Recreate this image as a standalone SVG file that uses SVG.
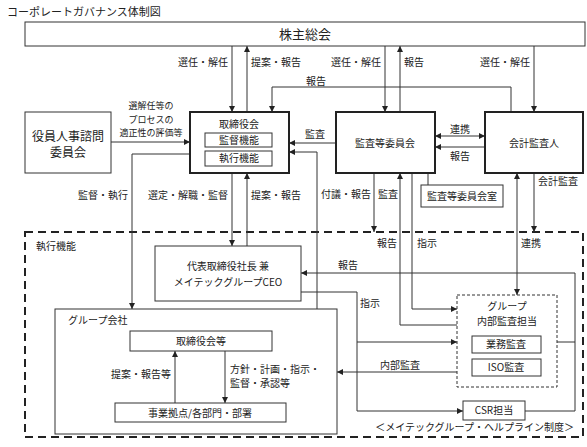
<svg xmlns="http://www.w3.org/2000/svg" width="587" height="447" viewBox="0 0 587 447">
<defs>
<marker id="ah" viewBox="0 0 6 6" refX="6" refY="3" markerWidth="6" markerHeight="6" markerUnits="userSpaceOnUse" orient="auto-start-reverse"><path d="M0,0 L6,3 L0,6 z" fill="#222"/></marker>
</defs>
<style>
text{font-family:"Noto Sans CJK JP","Noto Sans",sans-serif;font-size:10px;fill:#222}
.t{font-size:11px}
.big{font-size:13px}
.sm{font-size:9px}
.m{text-anchor:middle}
.e{text-anchor:end}
.box{fill:#fff;stroke:#333;stroke-width:1}
.thick{fill:#fff;stroke:#222;stroke-width:2}
.dash{fill:none;stroke:#222;stroke-width:2;stroke-dasharray:8,5}
.dbox{fill:#fff;stroke:#333;stroke-width:1;stroke-dasharray:3,2}
.ln{fill:none;stroke:#333;stroke-width:1}
.ar{fill:none;stroke:#333;stroke-width:1;marker-end:url(#ah)}
.ar2{fill:none;stroke:#333;stroke-width:1;marker-end:url(#ah);marker-start:url(#ah)}
</style>
<rect width="587" height="447" fill="#fff"/>
<text class="t" x="7" y="16">コーポレートガバナンス体制図</text>

<g id="exec-area">
<rect class="dash" x="25" y="232" width="558" height="205"/>
<text x="36" y="250">執行機能</text>
<text class="e" x="574" y="431">＜メイテックグループ・ヘルプライン制度＞</text>
</g>

<g id="connectors">
<path class="ar" d="M232,46 V112"/>
<path class="ar" d="M247,112 V46"/>
<path class="ar" d="M385,46 V112"/>
<path class="ar" d="M400,112 V46"/>
<path class="ar" d="M534,46 V112"/>
<path class="ar" d="M511,112 V87 H272 V112"/>
<path class="ar" d="M111,142 H190"/>
<path class="ar" d="M336,143 H289"/>
<path class="ar" d="M317,309 V152 H289"/>
<path class="ar2" d="M435,136 H485"/>
<path class="ar" d="M485,147 H435"/>
<path class="ln" d="M428,173 V185"/>
<path class="ar" d="M190,154 H132 V309"/>
<path class="ar" d="M232,173 V246"/>
<path class="ar" d="M247,246 V173"/>
<path class="ar" d="M374,173 V232"/>
<path class="ar" d="M457,325 H400 V173"/>
<path class="ar" d="M412,173 V309 H457"/>
<path class="ar2" d="M517,173 V295"/>
<path class="ar" d="M534,173 V232"/>
<path class="ar" d="M557,342 H575 V273 H301"/>
<path class="ln" d="M525,411 H575 V342"/>
<path class="ln" d="M301,292 H357 V411"/>
<path class="ar" d="M357,342 H457"/>
<path class="ar" d="M357,411 H463"/>
<path class="ar" d="M457,372 H337"/>
<path class="ar" d="M175,403 V351"/>
<path class="ar" d="M225,351 V403"/>

<text class="e" x="228" y="66">選任・解任</text>
<text x="251" y="66">提案・報告</text>
<text class="e" x="381" y="66">選任・解任</text>
<text x="404" y="66">報告</text>
<text class="e" x="530" y="66">選任・解任</text>
<text x="306" y="85">報告</text>
<text class="m sm" x="151" y="109">選解任等の</text>
<text class="m sm" x="151" y="122.5">プロセスの</text>
<text class="m sm" x="151" y="136">適正性の評価等</text>
<text x="305" y="138">監査</text>
<text class="m" x="460" y="133">連携</text>
<text class="m" x="460" y="160">報告</text>
<text class="e" x="128" y="199">監督・執行</text>
<text class="e" x="228" y="199">選定・解職・監督</text>
<text x="251" y="199">提案・報告</text>
<text x="321" y="198">付議・報告</text>
<text x="378" y="198">監査</text>
<text x="538" y="185">会計監査</text>
<text class="e" x="397" y="247">報告</text>
<text x="417" y="247">指示</text>
<text x="521" y="247">連携</text>
<text x="338" y="269">報告</text>
<text x="360" y="307">指示</text>
<text x="380" y="369">内部監査</text>
<text class="e" x="171" y="378">提案・報告等</text>
<text x="230" y="373">方針・計画・指示・</text>
<text x="230" y="387">監督・承認等</text>
</g>

<g id="shareholders">
<rect class="box" x="25" y="22" width="560" height="24" stroke-width="1.5"/>
<text class="big m" x="305" y="39">株主総会</text>
</g>

<g id="nomination-committee">
<rect class="box" x="25" y="112" width="86" height="61"/>
<text class="m" x="68" y="141" style="font-size:12px">役員人事諮問</text>
<text class="m" x="68" y="157" style="font-size:12px">委員会</text>
</g>

<g id="board">
<rect class="thick" x="190" y="112" width="99" height="61"/>
<text class="m" x="239" y="128">取締役会</text>
<rect class="box" x="205" y="133" width="67" height="14"/>
<text class="m" x="239" y="144">監督機能</text>
<rect class="box" x="205" y="151" width="67" height="15"/>
<text class="m" x="239" y="162">執行機能</text>
</g>

<g id="audit-committee">
<rect class="thick" x="336" y="112" width="99" height="61"/>
<text class="m" x="385" y="147">監査等委員会</text>
</g>

<g id="accounting-auditor">
<rect class="thick" x="485" y="112" width="98" height="61"/>
<text class="m" x="534" y="147">会計監査人</text>
</g>

<g id="audit-office">
<rect class="box" x="421" y="185" width="82" height="22"/>
<text class="m" x="462" y="200">監査等委員会室</text>
</g>

<g id="ceo">
<rect class="box" x="155" y="246" width="146" height="55"/>
<text class="m" x="228" y="270">代表取締役社長 兼</text>
<text class="m" x="228" y="286">メイテックグループCEO</text>
</g>

<g id="group-company">
<rect class="box" x="55" y="309" width="282" height="125" style="fill:none"/>
<text x="68" y="324">グループ会社</text>
</g>

<g id="group-board">
<rect class="box" x="130" y="331" width="142" height="20"/>
<text class="m" x="201" y="345">取締役会等</text>
</g>

<g id="business-units">
<rect class="box" x="115" y="403" width="171" height="19"/>
<text class="m" x="200" y="417">事業拠点/各部門・部署</text>
</g>

<g id="internal-audit">
<rect class="dbox" x="457" y="295" width="100" height="92"/>
<text class="m" x="507" y="310">グループ</text>
<text class="m" x="507" y="325">内部監査担当</text>
</g>

<g id="operations-audit">
<rect class="box" x="472" y="336" width="69" height="17"/>
<text class="m" x="506" y="348">業務監査</text>
</g>

<g id="iso-audit">
<rect class="box" x="472" y="359" width="69" height="17"/>
<text class="m" x="506" y="371">ISO監査</text>
</g>

<g id="csr">
<rect class="box" x="463" y="401" width="62" height="19"/>
<text class="m" x="494" y="414">CSR担当</text>
</g>
</svg>
